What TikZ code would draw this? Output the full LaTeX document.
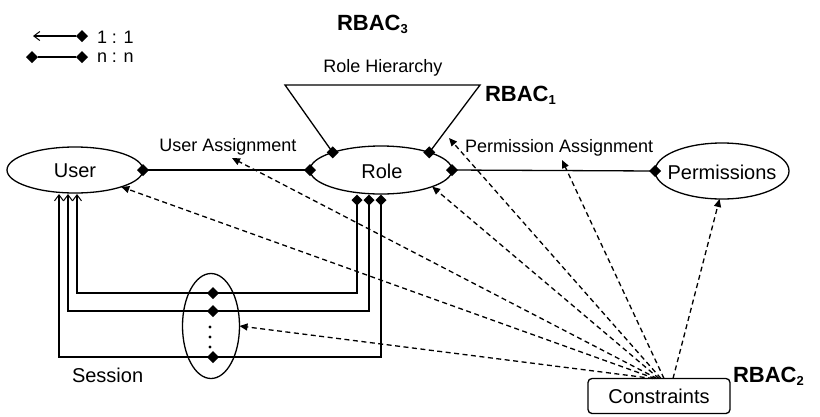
\documentclass[tikz,border=0pt]{standalone}
\usepackage{fontspec}
\setmainfont{Liberation Sans}
\usetikzlibrary{shapes.geometric,arrows.meta,calc}
\newcommand{\rbsub}[1]{\raisebox{-0.3ex}{\fontsize{13}{13}\selectfont #1}}
\begin{document}
\begin{tikzpicture}[x=1pt,y=-1pt,
  every node/.style={inner sep=0pt, outer sep=0pt},
  ln/.style={line width=1.3pt},
  ell/.style={draw, ellipse, line width=1.3pt, inner sep=0pt},
  dia/.style={diamond, fill=black, minimum width=12pt, minimum height=12pt, inner sep=0pt},
  dsh/.style={line width=1.3pt, dash pattern=on 5pt off 3.5pt, -{Triangle[length=8pt,width=7pt]}},
  bar/.style={-{Straight Barb[length=6pt,width=9pt,line width=1pt]}},
  big/.style={font=\fontsize{20}{24}\selectfont},
  lab/.style={font=\fontsize{18}{22}\selectfont},
  rb/.style={font=\bfseries\fontsize{22}{26}\selectfont, anchor=base west},
]
\useasboundingbox (0,0) rectangle (820,416);

% legend
\coordinate (l1a) at (33,36);
\node[dia] (l1d) at (82,36) {};
\draw[ln, bar] (l1d) -- (l1a);
\node[lab, anchor=west] (l1t) at (97,37) {1 : 1};
\node[dia] (l2a) at (32,57) {};
\node[dia] (l2b) at (82,57) {};
\draw[ln] (l2a) -- (l2b);
\node[lab, anchor=west] (l2t) at (97,58) {n : n};

% titles
\node[rb] (rb3) at (337,30) {RBAC\rbsub{3}};
\node[rb] (rb1) at (485,101) {RBAC\rbsub{1}};
\node[rb] (rb2) at (733,382) {RBAC\rbsub{2}};

% main ellipses
\node[ell, minimum width=136pt, minimum height=46pt] (user) at (75,170) {};
\node[big] (usert) at (75,171) {User};
\node[ell, minimum width=142pt, minimum height=48pt] (role) at (381,170) {};
\node[big] (rolet) at (382,171) {Role};
\node[ell, minimum width=134pt, minimum height=56pt] (perm) at (722,171) {};
\node[big] (permt) at (722,172) {Permissions};

% session
\node[ell, minimum width=57pt, minimum height=105pt] (sess) at (211,326) {};
\node[big, anchor=base west] (sesst) at (72,382) {Session};

% constraints
\node[draw, rounded corners=4pt, line width=1.3pt, minimum width=142pt, minimum height=35pt, big] (cons) at (659,396) {Constraints};

% labels
\node[lab, anchor=base] (ua) at (228,151) {User Assignment};
\node[lab, anchor=base west] (pa) at (465,152) {Permission Assignment};
\node[lab, anchor=base] (rh) at (383,72) {Role Hierarchy};

% assignments
\draw[ln] (user.east) -- (role.west);
\draw[ln] (role.east) -- (perm.west);
\node[dia] (d1) at (user.east) {};
\node[dia] (d2) at (role.west) {};
\node[dia] (d3) at (role.east) {};
\node[dia] (d4) at (perm.west) {};

% role hierarchy
\coordinate (tl) at (285,85);
\coordinate (tr) at (480,85);
\draw[ln] (role.160) -- (tl) -- (tr) -- (role.20);
\node[dia] (h1) at (role.160) {};
\node[dia] (h2) at (role.20) {};

% session links
\coordinate (rb1c) at (357,200);
\coordinate (rb2c) at (369,200);
\coordinate (rb3c) at (381,200);
\coordinate (sd1c) at (213,293);
\coordinate (sd2c) at (213,311);
\coordinate (sd3c) at (213,357);
\coordinate (ub1) at (77,194);
\coordinate (ub2) at (68,194);
\coordinate (ub3) at (59,194);
\draw[ln, bar] (rb1c) |- (sd1c) -| (ub1);
\draw[ln, bar] (rb2c) |- (sd2c) -| (ub2);
\draw[ln, bar] (rb3c) |- (sd3c) -| (ub3);
\node[dia, minimum width=11pt, minimum height=11pt] (rd1) at (rb1c) {};
\node[dia, minimum width=11pt, minimum height=11pt] (rd2) at (rb2c) {};
\node[dia, minimum width=11pt, minimum height=11pt] (rd3) at (rb3c) {};
\node[dia] (sd1) at (sd1c) {};
\node[dia] (sd2) at (sd2c) {};
\node[dia] (sd3) at (sd3c) {};
\fill (210,327) circle (1.6pt);
\fill (210,337) circle (1.6pt);
\fill (210,347) circle (1.6pt);

% constraint arrows
\coordinate (uaa) at (232,158);
\coordinate (hia) at (449,138);
\coordinate (paa) at (562,160);
\draw[dsh] ([xshift=-6pt]cons.north) -- (sess.east);
\draw[dsh] ([xshift=-4pt]cons.north) -- (user.-20);
\draw[dsh] ([xshift=-2pt]cons.north) -- (uaa);
\draw[dsh] ([xshift=0pt]cons.north) -- (role.-18);
\draw[dsh] ([xshift=2pt]cons.north) -- (hia);
\draw[dsh] ([xshift=5pt]cons.north) -- (paa);
\draw[dsh] ([xshift=14pt]cons.north) -- (perm.265);
\end{tikzpicture}
\end{document}
